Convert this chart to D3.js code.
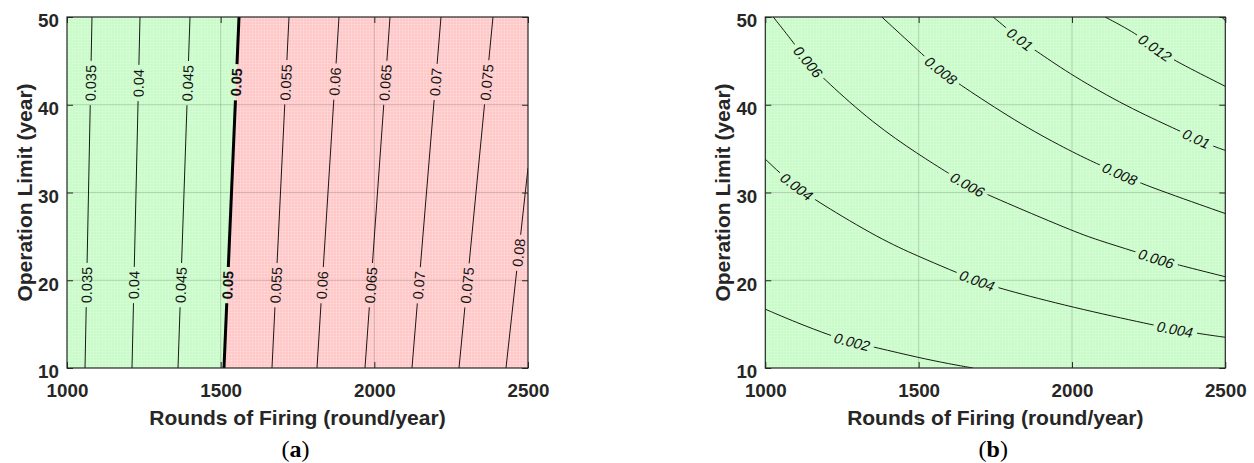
<!DOCTYPE html>
<html>
<head>
<meta charset="utf-8">
<script src="https://cdn.jsdelivr.net/npm/d3@7"></script>
<style>
  body { margin: 0; background: #fff; }
  svg { display: block; }
</style>
</head>
<body>
<svg id="fig" width="1254" height="463"></svg>
<script>
// ---- shared axes ----
const roundsDomain = [1000, 2500];
const yearsDomain = [10, 50];
const roundsTicks = [1000, 1500, 2000, 2500];
const yearsTicks = [10, 20, 30, 40, 50];
const xTitle = "Rounds of Firing (round/year)";
const yTitle = "Operation Limit (year)";

// ---- panel (a): contour levels, traces [rounds, years] from bottom to top ----
const levelsA = [0.035, 0.04, 0.045, 0.05, 0.055, 0.06, 0.065, 0.07, 0.075, 0.08];
const tracesA = [
  [[1058.6, 10], [1081.3, 50]],
  [[1211.5, 10], [1237.5, 50]],
  [[1361.2, 10], [1400.2, 50]],
  [[1510.8, 10], [1559.7, 50]],
  [[1667.0, 10], [1722.3, 50]],
  [[1813.4, 10], [1885.0, 50]],
  [[1969.6, 10], [2051.0, 50]],
  [[2122.5, 10], [2216.9, 50]],
  [[2275.5, 10], [2386.1, 50]],
  [[2428.4, 10], [2500.0, 32.8]]
];
// years at which each level is labelled
const labelsA = [
  [42.5, 19.4], [42.5, 19.4], [42.5, 19.4], [42.6, 19.5], [42.5, 19.4],
  [42.6, 19.4], [42.5, 19.4], [42.6, 19.4], [42.5, 19.4], [23.1]
];
const limitA = 0.05;   // acceptance limit: below is green, above is red

// ---- panel (b): contour levels, traces [rounds, years] from left to right ----
const levelsB = [0.002, 0.004, 0.006, 0.008, 0.01, 0.012, 0.014];
const tracesB = [
  [[1000, 16.7], [1100, 15.2], [1216, 13.65], [1282, 12.95], [1358, 12.36], [1501, 11.17], [1602, 10.46], [1677, 10]],
  [[1000, 33.8], [1048, 32.2], [1103, 30.6], [1173, 28.9], [1374, 24.7], [1501, 22.7], [1602, 21.2], [1692, 19.9], [1771, 19.0], [2002, 16.9], [2264, 14.9], [2336, 14.4], [2417, 13.9], [2500, 13.5]],
  [[1026, 50], [1094, 47.0], [1139, 44.8], [1195, 42.8], [1351, 37.9], [1501, 34.3], [1602, 32.1], [1661, 30.8], [1733, 29.6], [2003, 25.6], [2082, 24.6], [2212, 23.2], [2277, 22.4], [2352, 21.7], [2500, 20.4]],
  [[1380, 50], [1526, 45.3], [1573, 43.8], [1651, 41.9], [1840, 37.6], [2002, 34.6], [2080, 33.3], [2157, 32.1], [2232, 30.9], [2500, 27.6]],
  [[1743, 50], [1781, 48.9], [1830, 47.4], [1889, 46.0], [2002, 43.3], [2178, 39.8], [2346, 37.1], [2407, 36.1], [2466, 35.2], [2500, 34.8]],
  [[2108, 50], [2211, 48.1], [2271, 46.4], [2341, 44.9], [2500, 42.1]],
  [[2488, 50], [2500, 49.6]]
];
// rounds at which each level is labelled
const labelsB = [
  [1282], [1103, 1692, 2336], [1139, 1661, 2277], [1573, 2157], [1830, 2407], [2271], []
];

// ---- layout ----
const svg = d3.select("#fig");
const defs = svg.append("defs");
const INK = "#262626";
const SANS = "'Liberation Sans', Arial, Helvetica, sans-serif";
const tickFont = 18.8, titleFont = 21, labelFont = 14.5;

function mesh(id, base) {
  const p = defs.append("pattern").attr("id", id)
    .attr("patternUnits", "userSpaceOnUse").attr("width", 3).attr("height", 3);
  p.append("rect").attr("width", 3).attr("height", 3).attr("fill", base);
  p.append("rect").attr("width", 3).attr("height", 1).attr("fill", "#fff").attr("opacity", 0.16);
  p.append("rect").attr("width", 1).attr("height", 3).attr("fill", "#fff").attr("opacity", 0.16);
}
mesh("meshGreen", "#c8fbc8");
mesh("meshRed", "#ffc8c8");

function panel(cfg) {
  const { left, top, width, height, id } = cfg;
  const x = d3.scaleLinear().domain(roundsDomain).range([left, left + width]);
  const y = d3.scaleLinear().domain(yearsDomain).range([top + height, top]);
  const g = svg.append("g");

  // background regions
  if (cfg.split) {
    const t = cfg.split;
    const green = [[roundsDomain[0], yearsDomain[0]], ...t, [roundsDomain[0], yearsDomain[1]]];
    const red = [[roundsDomain[1], yearsDomain[0]], ...t, [roundsDomain[1], yearsDomain[1]]];
    const poly = d3.line().x(d => x(d[0])).y(d => y(d[1]));
    g.append("path").attr("d", poly(green) + "Z").attr("fill", "url(#meshGreen)");
    g.append("path").attr("d", poly(red) + "Z").attr("fill", "url(#meshRed)");
  } else {
    g.append("rect").attr("x", left).attr("y", top).attr("width", width).attr("height", height)
      .attr("fill", "url(#meshGreen)");
  }

  // grid
  const grid = g.append("g").attr("stroke", "#000").attr("stroke-opacity", 0.16).attr("stroke-width", 1);
  roundsTicks.slice(1, -1).forEach(v => grid.append("line")
    .attr("x1", x(v)).attr("x2", x(v)).attr("y1", top).attr("y2", top + height));
  yearsTicks.slice(1, -1).forEach(v => grid.append("line")
    .attr("y1", y(v)).attr("y2", y(v)).attr("x1", left).attr("x2", left + width));

  // contours (masked where labels sit)
  const mask = defs.append("mask").attr("id", "gap" + id)
    .attr("maskUnits", "userSpaceOnUse").attr("x", 0).attr("y", 0).attr("width", 1254).attr("height", 463);
  mask.append("rect").attr("width", 1254).attr("height", 463).attr("fill", "#fff");
  const clip = defs.append("clipPath").attr("id", "clip" + id);
  clip.append("rect").attr("x", left).attr("y", top).attr("width", width).attr("height", height);

  const lines = g.append("g").attr("mask", `url(#gap${id})`).attr("clip-path", `url(#clip${id})`);
  const texts = g.append("g");
  const gen = d3.line().x(d => x(d[0])).y(d => y(d[1])).curve(cfg.curve);

  cfg.levels.forEach((lev, i) => {
    const bold = cfg.bold === lev;
    const path = lines.append("path").attr("d", gen(cfg.traces[i]))
      .attr("fill", "none").attr("stroke", "#000").attr("stroke-width", bold ? 3 : 0.9);
    const node = path.node();
    const total = node.getTotalLength();
    const samples = d3.range(0, Math.ceil(total) + 1).map(l => {
      const p = node.getPointAtLength(Math.min(l, total));
      return { l: Math.min(l, total), x: p.x, y: p.y };
    });
    cfg.labels[i].forEach(v => {
      const target = cfg.labelAxis === "y" ? y(v) : x(v);
      const key = cfg.labelAxis;
      const s = samples.reduce((a, b) => Math.abs(b[key] - target) < Math.abs(a[key] - target) ? b : a);
      const p0 = node.getPointAtLength(Math.max(0, s.l - 8));
      const p1 = node.getPointAtLength(Math.min(total, s.l + 8));
      let ang = Math.atan2(p1.y - p0.y, p1.x - p0.x) * 180 / Math.PI;
      if (ang > 90) ang -= 180;
      if (ang < -90) ang += 180;
      const txt = texts.append("text")
        .attr("transform", `translate(${s.x},${s.y}) rotate(${ang})${cfg.skew ? ` skewX(${cfg.skew})` : ""}`)
        .attr("text-anchor", "middle").attr("dy", "0.36em")
        .attr("font-family", SANS).attr("font-size", labelFont)
        .attr("font-weight", bold ? "bold" : "normal")
        .attr("fill", "#111")
        .text(String(lev));
      const len = txt.node().getComputedTextLength();
      mask.append("rect")
        .attr("transform", `translate(${s.x},${s.y}) rotate(${ang})`)
        .attr("x", -len / 2 - 4).attr("y", -7).attr("width", len + 8).attr("height", 14)
        .attr("fill", "#000");
    });
  });

  // axes: inward ticks on all sides
  const styleAxis = sel => {
    sel.select(".domain").remove();
    sel.selectAll(".tick line").attr("stroke", INK).attr("stroke-width", 1);
    sel.selectAll(".tick text").attr("fill", INK).attr("font-family", SANS)
      .attr("font-size", tickFont).attr("font-weight", "bold");
  };
  const fmt = d3.format("d");
  svg.append("g").attr("transform", `translate(0,${top + height})`)
    .call(d3.axisBottom(x).tickValues(roundsTicks).tickFormat(fmt).tickSizeInner(-6).tickSizeOuter(0).tickPadding(16))
    .call(styleAxis);
  svg.append("g").attr("transform", `translate(0,${top})`)
    .call(d3.axisTop(x).tickValues(roundsTicks).tickSizeInner(-6).tickSizeOuter(0).tickFormat(""))
    .call(styleAxis);
  svg.append("g").attr("transform", `translate(${left},0)`)
    .call(d3.axisLeft(y).tickValues(yearsTicks).tickFormat(fmt).tickSizeInner(-6).tickSizeOuter(0).tickPadding(8))
    .call(styleAxis)
    .call(s => s.selectAll(".tick text").attr("dy", "0.52em"));
  svg.append("g").attr("transform", `translate(${left + width},0)`)
    .call(d3.axisRight(y).tickValues(yearsTicks).tickSizeInner(-6).tickSizeOuter(0).tickFormat(""))
    .call(styleAxis);

  svg.append("rect").attr("x", left).attr("y", top).attr("width", width).attr("height", height)
    .attr("fill", "none").attr("stroke", INK).attr("stroke-width", 1.2);

  // titles
  svg.append("text").attr("x", left + width / 2).attr("y", 425)
    .attr("text-anchor", "middle").attr("font-family", SANS).attr("font-size", titleFont)
    .attr("font-weight", "bold").attr("fill", INK).text(xTitle);
  svg.append("text").attr("transform", `translate(${left - 35.5},${top + height / 2}) rotate(-90)`)
    .attr("text-anchor", "middle").attr("font-family", SANS).attr("font-size", titleFont)
    .attr("font-weight", "bold").attr("fill", INK).text(yTitle);

  // caption
  const cap = svg.append("text").attr("x", left + width / 2 - 2).attr("y", 457)
    .attr("text-anchor", "middle").attr("font-family", "'Liberation Serif', 'DejaVu Serif', serif")
    .attr("font-size", 24).attr("fill", "#000");
  cap.append("tspan").text("(");
  cap.append("tspan").attr("font-weight", "bold").text(cfg.tag);
  cap.append("tspan").text(")");
}

panel({
  id: "A", tag: "a", left: 67, top: 17, width: 461, height: 351,
  levels: levelsA, traces: tracesA, labels: labelsA, labelAxis: "y",
  curve: d3.curveLinear, bold: limitA,
  split: tracesA[levelsA.indexOf(limitA)]
});
panel({
  id: "B", tag: "b", left: 765.3, top: 17, width: 460, height: 351,
  levels: levelsB, traces: tracesB, labels: labelsB, labelAxis: "x",
  curve: d3.curveBasis, skew: -10
});
</script>
</body>
</html>
